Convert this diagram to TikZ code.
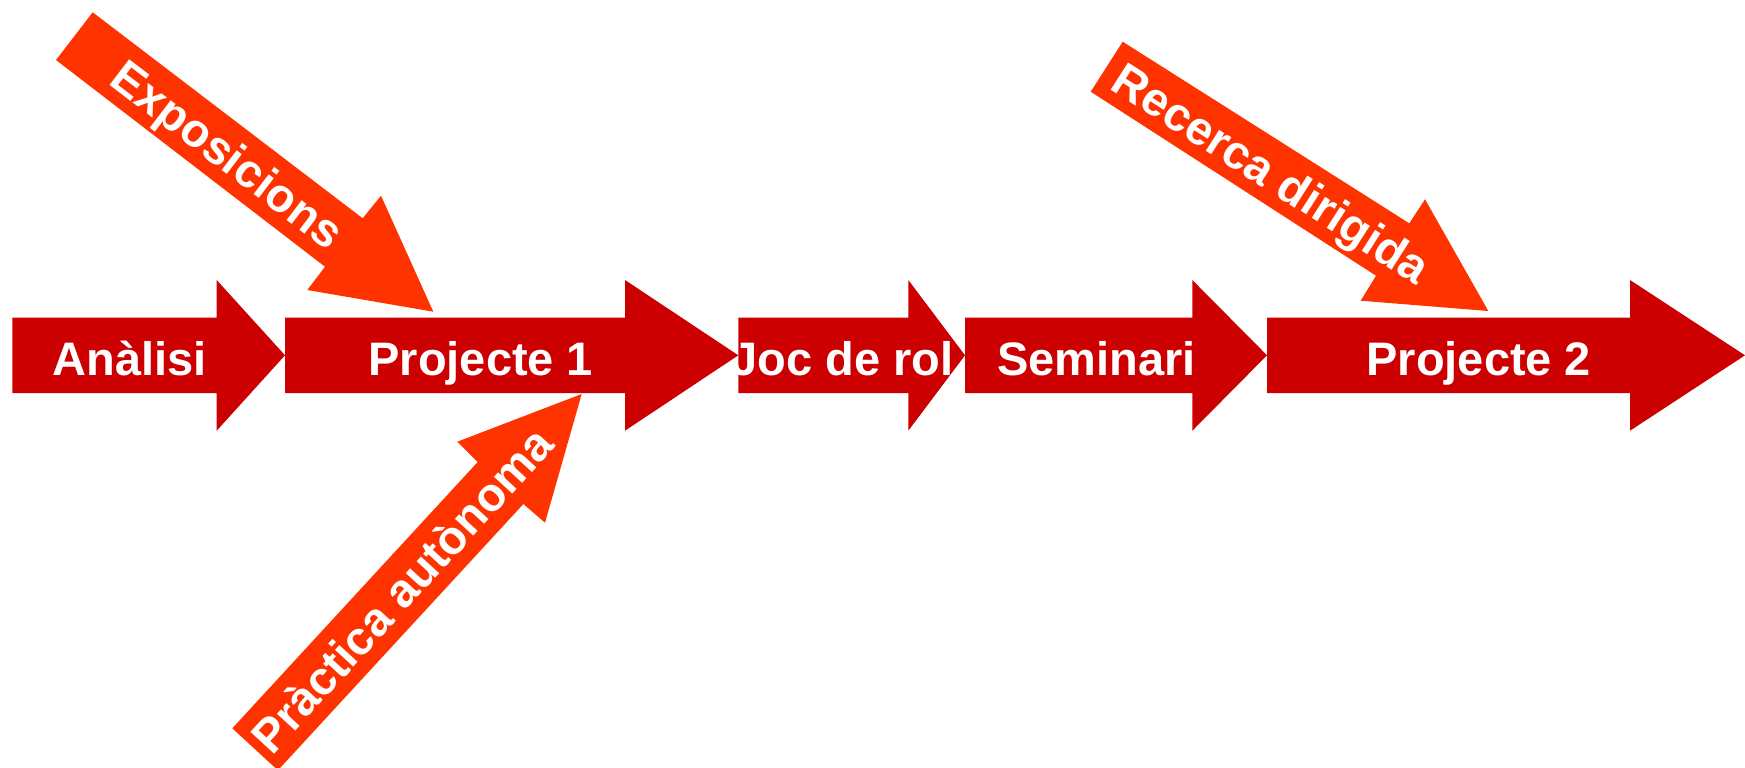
\documentclass[tikz,border=0pt]{standalone}
\usepackage{fontspec}
\setmainfont{Liberation Sans}
\usepackage{xcolor}
\usepackage{tikz}
\definecolor{stepred}{HTML}{CC0000}
\definecolor{sidered}{HTML}{FF3300}

\begin{document}
\begin{tikzpicture}
	[x=0.5pt,y=-0.5pt,
	stage/.style={fill=stepred},
	feed/.style={fill=sidered},
	lbl/.style={text=white,font=\bfseries\fontsize{23.5}{28}\selectfont,
		text height=16.8pt,text depth=0pt,inner sep=0pt}]
	\useasboundingbox (0,0) rectangle (1745,767);
	\clip (0,0) rectangle (1745,767);
	% chain of stages
	\foreach \a/\b/\c in {12.3/216.7/285,285/625/738.3,738.3/908.3/965,965/1192.3/1267,1267/1630/1745}
		\fill[stage] (\a,317.7) -- (\b,317.7) -- (\b,280) -- (\c,355.3) -- (\b,430.7) -- (\b,393) -- (\a,393) -- cycle;
	\node[lbl] (analisi) at (130,358.3) {Anàlisi};
	\node[lbl] (proj1) at (480.8,358.3) {Projecte 1};
	\node[lbl] (joc) at (842.5,358.3) {Joc de rol};
	\node[lbl] (seminari) at (1096.7,358.3) {Seminari};
	\node[lbl] (proj2) at (1478.8,358.3) {Projecte 2};
	% side arrows
	\fill[feed] (92.7,12.3) -- (362.7,218.3) -- (381,195.7) -- (433.3,311.7) -- (307.3,290) -- (325,266.7) -- (56,60) -- cycle;
	\node[lbl,rotate=-37.4] (expo) at (228,154) {Exposicions};
	\fill[feed] (1122.7,41.7) -- (1409.3,223.3) -- (1425,199.3) -- (1488.3,311) -- (1360.7,300.7) -- (1376,275.7) -- (1090.7,91.7) -- cycle;
	\node[lbl,rotate=-32.6] (recerca) at (1272,173) {Recerca dirigida};
	\fill[feed] (232.3,728.3) -- (477.7,462) -- (457.3,441.7) -- (581.7,394) -- (545,522.7) -- (523.4,504) -- (277.9,770.3) -- cycle;
	\node[lbl,rotate=47.4] (practica) at (402,590) {Pràctica autònoma};
\end{tikzpicture}
\end{document}
